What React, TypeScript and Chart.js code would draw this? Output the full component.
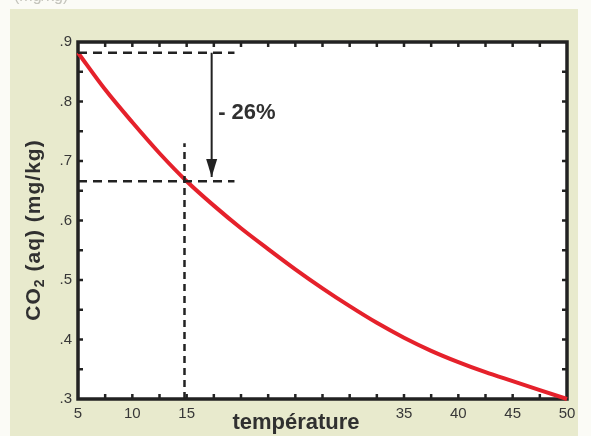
import React, { useEffect, useRef } from "react";
import { Chart, registerables } from "chart.js";

Chart.register(...registerables);

// ---- data ----
const temperatures = [5, 7.5, 10, 12.5, 15, 17.5, 20, 22.5, 25, 27.5, 30, 32.5, 35, 37.5, 40, 42.5, 45, 47.5, 50];
const co2Values = [0.882, 0.82, 0.765, 0.713, 0.666, 0.625, 0.587, 0.552, 0.518, 0.486, 0.456, 0.428, 0.403, 0.381, 0.362, 0.345, 0.33, 0.315, 0.3];

const xTickLabels = ["5", "10", "15", "35", "40", "45", "50"];
const yTickLabels = [".3", ".4", ".5", ".6", ".7", ".8", ".9"];

const dashTopX = [5, 19.4];
const dashTopY = [0.882, 0.882];
const dashMidX = [5, 19.4];
const dashMidY = [0.666, 0.666];
const dashVertX = [14.8, 14.8];
const dashVertY = [0.3, 0.73];
const arrowX = [17.3, 17.3];
const arrowY = [0.882, 0.673];
const annotationText = "- 26%";
const annotationPos = [17.9, 0.78];

const xTitle = "température";
const yTitleParts = ["CO", "2", " (aq) (mg/kg)"];
const topCutText = "(mg/kg)";

const pts = (xs: number[], ys: number[]) => xs.map((x, i) => ({ x, y: ys[i] }));

const INK = "#222222";
const BEIGE = "#e8eacd";
const LABEL = "#383838";

const framePlugin = {
  id: "framePlugin",
  beforeDraw(chart: any) {
    const { ctx, width, height, chartArea } = chart;
    ctx.save();
    ctx.fillStyle = "#fbfbf6";
    ctx.fillRect(0, 0, width, height);
    ctx.fillStyle = BEIGE;
    ctx.fillRect(10, 9, 568, height - 9);
    ctx.fillStyle = "#ffffff";
    ctx.fillRect(chartArea.left, chartArea.top, chartArea.right - chartArea.left, chartArea.bottom - chartArea.top);
    // cut text at top
    ctx.fillStyle = "#c4c4bc";
    ctx.font = "16px 'Liberation Sans', Arial, sans-serif";
    ctx.textBaseline = "alphabetic";
    ctx.fillText(topCutText, 14, 1);
    ctx.restore();
  },
  beforeDatasetsDraw(chart: any) {
    const { ctx, chartArea, scales } = chart;
    const { left, right, top, bottom } = chartArea;
    ctx.save();
    ctx.strokeStyle = INK;
    ctx.lineWidth = 2.5;
    const len = 5;
    scales.x.ticks.forEach((t: any) => {
      const px = scales.x.getPixelForValue(t.value);
      if (px <= left + 1 || px >= right - 1) return;
      ctx.beginPath();
      ctx.moveTo(px, bottom);
      ctx.lineTo(px, bottom - len);
      ctx.moveTo(px, top);
      ctx.lineTo(px, top + len);
      ctx.stroke();
    });
    scales.y.ticks.forEach((t: any) => {
      const py = scales.y.getPixelForValue(t.value);
      if (py <= top + 1 || py >= bottom - 1) return;
      ctx.beginPath();
      ctx.moveTo(left, py);
      ctx.lineTo(left + len, py);
      ctx.moveTo(right, py);
      ctx.lineTo(right - len, py);
      ctx.stroke();
    });
    ctx.lineWidth = 3.5;
    ctx.strokeRect(left, top, right - left, bottom - top);
    ctx.restore();
  },
  afterDraw(chart: any) {
    const { ctx, scales } = chart;
    ctx.save();
    // arrow head
    const ax = scales.x.getPixelForValue(arrowX[1]);
    const ay = scales.y.getPixelForValue(arrowY[1]);
    ctx.fillStyle = INK;
    ctx.beginPath();
    ctx.moveTo(ax, ay);
    ctx.lineTo(ax - 5.5, ay - 18);
    ctx.lineTo(ax + 5.5, ay - 18);
    ctx.closePath();
    ctx.fill();
    // annotation
    ctx.font = "bold 22px 'Liberation Sans', Arial, sans-serif";
    ctx.textBaseline = "middle";
    ctx.textAlign = "left";
    ctx.fillStyle = "#303030";
    ctx.fillText(annotationText, scales.x.getPixelForValue(annotationPos[0]), scales.y.getPixelForValue(annotationPos[1]));
    // x title
    ctx.font = "bold 22px 'Liberation Sans', Arial, sans-serif";
    ctx.textAlign = "center";
    ctx.fillText(xTitle, 296, 423);
    // y title (rotated, with subscript)
    ctx.translate(34, 230);
    ctx.rotate(-Math.PI / 2);
    const big = "bold 21px 'Liberation Sans', Arial, sans-serif";
    const small = "bold 14px 'Liberation Sans', Arial, sans-serif";
    (ctx as any).letterSpacing = "1px";
    ctx.font = big;
    const w0 = ctx.measureText(yTitleParts[0]).width;
    const w2 = ctx.measureText(yTitleParts[2]).width;
    ctx.font = small;
    const w1 = ctx.measureText(yTitleParts[1]).width;
    let x = -(w0 + w1 + w2) / 2;
    ctx.textAlign = "left";
    ctx.textBaseline = "middle";
    ctx.font = big;
    ctx.fillText(yTitleParts[0], x, 0);
    x += w0;
    ctx.font = small;
    ctx.fillText(yTitleParts[1], x, 6);
    x += w1;
    ctx.font = big;
    ctx.fillText(yTitleParts[2], x, 0);
    ctx.restore();
  },
};

export default function App() {
  const ref = useRef<HTMLCanvasElement | null>(null);
  useEffect(() => {
    if (!ref.current) return;
    const dashStyle = {
      borderColor: INK,
      borderWidth: 2.5,
      borderDash: [9, 6],
      pointRadius: 0,
      fill: false,
      tension: 0,
    };
    const chart = new Chart(ref.current, {
      type: "line",
      data: {
        datasets: [
          { ...dashStyle, label: "top", data: pts(dashTopX, dashTopY) },
          { ...dashStyle, label: "mid", data: pts(dashMidX, dashMidY) },
          { ...dashStyle, borderDash: [7, 5], label: "vert", data: pts(dashVertX, dashVertY) },
          { label: "arrow", data: pts(arrowX, arrowY), borderColor: INK, borderWidth: 2, pointRadius: 0, tension: 0 },
          {
            label: "CO2",
            data: pts(temperatures, co2Values),
            borderColor: "#e5212b",
            borderWidth: 4,
            pointRadius: 0,
            cubicInterpolationMode: "monotone",
            clip: false,
          } as any,
        ],
      },
      options: {
        responsive: false,
        animation: false,
        devicePixelRatio: 1,
        layout: { padding: { left: 0, top: 42, right: 24, bottom: 0 } },
        plugins: { legend: { display: false }, tooltip: { enabled: false }, title: { display: false } },
        scales: {
          x: {
            type: "linear",
            min: 5,
            max: 50,
            grid: { display: false, drawTicks: false, tickLength: 0 },
            border: { display: false },
            afterFit: (s: any) => { s.height = 37; },
            ticks: {
              stepSize: 2.5,
              autoSkip: false,
              maxRotation: 0,
              padding: 6,
              color: LABEL,
              font: { family: "'Liberation Sans', Arial, sans-serif", size: 15 },
              callback: (v: any) => (xTickLabels.includes(String(v)) ? String(v) : ""),
            },
          },
          y: {
            type: "linear",
            min: 0.3,
            max: 0.9,
            grid: { display: false, drawTicks: false, tickLength: 0 },
            border: { display: false },
            afterFit: (s: any) => { s.width = 78; },
            ticks: {
              stepSize: 0.05,
              autoSkip: false,
              padding: 6,
              color: LABEL,
              font: { family: "'Liberation Sans', Arial, sans-serif", size: 15 },
              callback: (v: any) => {
                const n = Number(v);
                if (Math.abs(n * 10 - Math.round(n * 10)) > 1e-6) return "";
                const s = n.toFixed(1).replace(/^0/, "");
                return yTickLabels.includes(s) ? s : "";
              },
            },
          },
        },
      },
      plugins: [framePlugin],
    } as any);
    return () => chart.destroy();
  }, []);
  return (
    <div style={{ position: "fixed", left: 0, top: 0, width: 591, height: 436 }}>
      <canvas ref={ref} width={591} height={436} style={{ display: "block" }} />
    </div>
  );
}
